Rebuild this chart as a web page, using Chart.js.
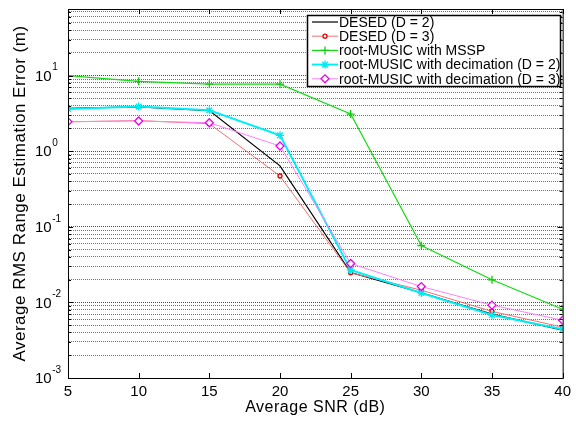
<!DOCTYPE html>
<html>
<head>
<meta charset="utf-8">
<script src="https://cdn.jsdelivr.net/npm/chart.js@4/dist/chart.umd.min.js"></script>
<style>
  html, body { margin: 0; padding: 0; background: #fff; }
  #wrap { width: 576px; height: 421px; }
</style>
</head>
<body>
<div id="wrap"><canvas id="chart" width="576" height="421"></canvas></div>
<script>
// SNR values (dB)
const snr = [5, 10, 15, 20, 25, 30, 35, 40];

// RMS range estimation error (m)
const desedD2 = [3.7, 3.85, 3.45, 0.64, 0.0248, 0.0134, 0.0070, 0.0043];
const desedD3 = [2.44, 2.54, 2.31, 0.47, 0.0246, 0.0145, 0.0076, 0.0047];
const rootMusicMssp = [10.0, 8.4, 7.7, 7.7, 3.1, 0.0566, 0.0199, 0.0081];
const rootMusicDecD2 = [3.62, 3.89, 3.47, 1.62, 0.0269, 0.0133, 0.0068, 0.0044];
const rootMusicDecD3 = [2.46, 2.51, 2.38, 1.17, 0.0327, 0.0162, 0.0092, 0.0058];

const seriesNames = [
  'DESED (D = 2)',
  'DESED (D = 3)',
  'root-MUSIC with MSSP',
  'root-MUSIC with decimation (D = 2)',
  'root-MUSIC with decimation (D = 3)'
];

// y axis decades (labels drawn as 10^n)
const yDecades = [0.001, 0.01, 0.1, 1, 10];
const yMin = 0.001;
const yMax = 76;
const xTicks = [5, 10, 15, 20, 25, 30, 35, 40];
const xTitle = 'Average SNR (dB)';
const yTitle = 'Average RMS Range Estimation Error (m)';

const FONT = '"Liberation Sans", Arial, sans-serif';
const toPoints = vals => vals.map((v, i) => ({ x: snr[i], y: v }));

const styles = [
  { line: '#000000', mark: '#000000', style: false, radius: 0, width: 1.2 },
  { line: '#f47070', mark: '#e00000', style: 'circle', radius: 2, width: 1, bg: '#ffffff' },
  { line: '#11dd11', mark: '#11cc11', style: 'cross', radius: 4, width: 1.2 },
  { line: '#00f0f8', mark: '#00e8f0', style: 'star', radius: 4, width: 2 },
  { line: '#ff80ff', mark: '#ee00ee', style: 'rectRot', radius: 4, width: 1, bg: '#ffffff' }
];

const allSeries = [desedD2, desedD3, rootMusicMssp, rootMusicDecD2, rootMusicDecD3];

const datasets = allSeries.map((vals, i) => ({
  label: seriesNames[i],
  data: toPoints(vals),
  borderColor: styles[i].line,
  borderWidth: styles[i].width,
  pointStyle: styles[i].style,
  pointRadius: styles[i].radius,
  pointBorderColor: styles[i].mark,
  pointBackgroundColor: styles[i].bg || styles[i].mark,
  pointBorderWidth: 1.3,
  tension: 0,
  order: 5 - i
}));

// frame, inward ticks, axis texts and boxed legend, matlab-like
const matlabDecor = {
  id: 'matlabDecor',
  afterDraw(chart) {
    const { ctx, chartArea: a, scales } = chart;
    const xs = scales.x, ys = scales.y;
    ctx.save();
    ctx.strokeStyle = '#000';
    ctx.lineWidth = 1;
    ctx.strokeRect(a.left + 0.5, a.top + 0.5, a.right - a.left, a.bottom - a.top);

    ctx.beginPath();
    xTicks.forEach(v => {
      const px = Math.round(xs.getPixelForValue(v)) + 0.5;
      ctx.moveTo(px, a.bottom); ctx.lineTo(px, a.bottom - 5);
      ctx.moveTo(px, a.top); ctx.lineTo(px, a.top + 5);
    });
    ys.ticks.forEach(t => {
      const py = Math.round(ys.getPixelForValue(t.value)) + 0.5;
      const len = yDecades.includes(t.value) ? 5 : 3;
      ctx.moveTo(a.left, py); ctx.lineTo(a.left + len, py);
      ctx.moveTo(a.right, py); ctx.lineTo(a.right - len, py);
    });
    ctx.stroke();

    // y tick labels 10^n
    ctx.fillStyle = '#000';
    ctx.textBaseline = 'middle';
    ctx.textAlign = 'left';
    yDecades.forEach(v => {
      const py = ys.getPixelForValue(v);
      const exp = String(Math.round(Math.log10(v)));
      ctx.font = '15px ' + FONT;
      ctx.fillText('10', 35, py + 1);
      const w = ctx.measureText('10').width;
      ctx.font = '10px ' + FONT;
      ctx.fillText(exp, 35 + w + 0.5, py - 8);
    });

    // axis titles (a bit spread out like the original)
    ctx.letterSpacing = '0.5px';
    ctx.textAlign = 'center';
    ctx.font = '16px ' + FONT;
    ctx.fillText(xTitle, (a.left + a.right) / 2, 408);
    ctx.save();
    ctx.translate(20, (a.top + a.bottom) / 2);
    ctx.rotate(-Math.PI / 2);
    ctx.font = '17px ' + FONT;
    ctx.fillText(yTitle, 0, 0);
    ctx.restore();
    ctx.letterSpacing = '0px';
    ctx.textAlign = 'left';

    // legend box
    const lx = 307, ly = 15, lw = 253, lh = 71;
    ctx.fillStyle = '#fff';
    ctx.fillRect(lx, ly, lw, lh);
    ctx.lineWidth = 1.5;
    ctx.strokeStyle = '#000';
    ctx.strokeRect(lx + 0.5, ly + 0.5, lw, lh);
    ctx.font = '14px ' + FONT;
    ctx.textBaseline = 'middle';
    styles.forEach((s, i) => {
      const y = 22 + i * 14.2;
      ctx.strokeStyle = s.line;
      ctx.lineWidth = s.width;
      ctx.beginPath();
      ctx.moveTo(312, y); ctx.lineTo(338, y);
      ctx.stroke();
      if (s.style) {
        ctx.strokeStyle = s.mark;
        ctx.fillStyle = s.bg || s.mark;
        ctx.lineWidth = 1.3;
        Chart.helpers.drawPoint(ctx, { pointStyle: s.style, radius: s.radius, rotation: 0, borderWidth: 1.3 }, 325, y);
      }
      ctx.fillStyle = '#000';
      ctx.fillText(seriesNames[i], 339, y + 1);
    });
    ctx.restore();
  }
};

new Chart(document.getElementById('chart'), {
  type: 'line',
  data: { datasets: datasets },
  options: {
    responsive: false,
    animation: false,
    layout: { padding: { top: 9, right: 13, left: 0, bottom: 0 } },
    plugins: { legend: { display: false }, tooltip: { enabled: false } },
    scales: {
      x: {
        type: 'linear',
        min: 5,
        max: 40,
        afterFit: s => { s.height = 43; },
        afterBuildTicks: s => { s.ticks = xTicks.map(v => ({ value: v })); },
        grid: { display: false, drawTicks: false },
        border: { color: '#000' },
        ticks: {
          color: '#000',
          padding: 5,
          maxRotation: 0,
          font: { family: FONT, size: 15 }
        }
      },
      y: {
        type: 'logarithmic',
        min: yMin,
        max: yMax,
        afterFit: s => { s.width = 68; },
        afterBuildTicks: s => {
          const t = [];
          yDecades.forEach(d => {
            for (let k = 1; k <= 9; k++) {
              const v = +(k * d).toPrecision(3);
              if (v <= yMax) t.push({ value: v });
            }
          });
          s.ticks = t;
        },
        grid: {
          drawTicks: false,
          color: ctx => yDecades.includes(ctx.tick && ctx.tick.value) ? 'rgba(0,0,0,0.7)' : 'rgba(0,0,0,0.55)',
          lineWidth: 1
        },
        border: { color: '#000', dash: [1, 1] },
        ticks: { display: false }
      }
    }
  },
  plugins: [matlabDecor]
});
</script>
</body>
</html>
